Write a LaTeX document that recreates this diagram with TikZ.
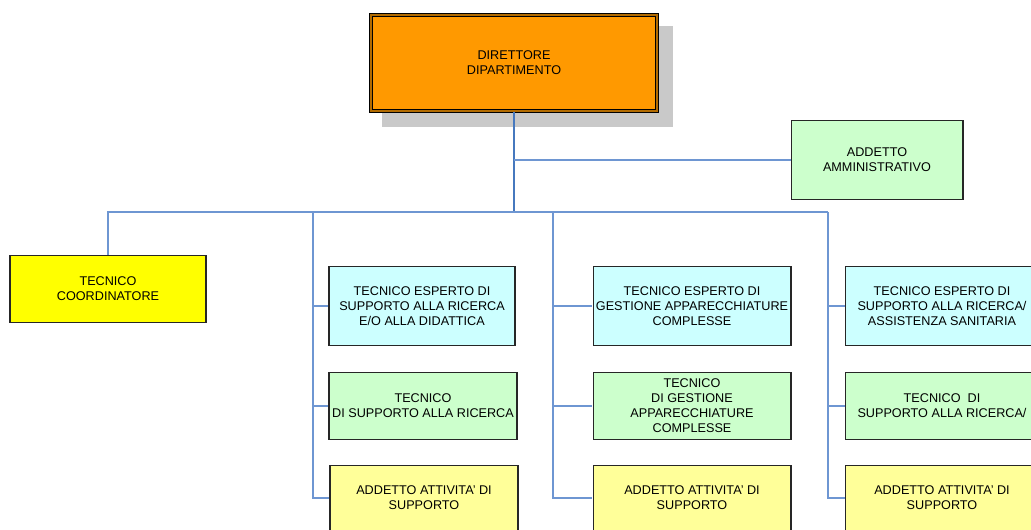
\documentclass[tikz,border=0pt]{standalone}
\usepackage{fontspec}
\setmainfont{Liberation Sans}
\usetikzlibrary{positioning, calc}
\definecolor{dirorange}{RGB}{255,153,0}
\definecolor{boxgreen}{RGB}{204,255,204}
\definecolor{boxcyan}{RGB}{204,255,255}
\definecolor{boxyellow}{RGB}{255,255,0}
\definecolor{boxpale}{RGB}{255,255,153}
\definecolor{linkblue}{RGB}{110,150,210}
\definecolor{trunkblue}{RGB}{70,120,190}
\tikzset{
	orgbox/.style={draw=black!85, line width=0.6pt, align=center, inner sep=0pt,
		font=\fontsize{7.2}{8.5}\selectfont},
	link/.style={draw=linkblue, line width=0.6pt}
}
\tikzset{
	trunk/.style={draw=trunkblue, line width=0.8pt}
}

\begin{document}
\begin{tikzpicture}[x=0.02cm, y=-0.02cm]
      \clip (0,0) rectangle (1031,529);
      \fill[white] (0,0) rectangle (1031,529);
      % director with shadow
      \fill[black!21] (382,26) rectangle (673,127);
      \node[orgbox, fill=dirorange, draw=black, double=dirorange!70!black, double distance=1.2pt,
        minimum width=5.72cm, minimum height=1.92cm] (dir) at (514,63) {DIRETTORE\\DIPARTIMENTO};
      \node[orgbox, fill=boxgreen, minimum width=3.44cm, minimum height=1.58cm] (amm) at (877,160) {ADDETTO\\AMMINISTRATIVO};
      \node[orgbox, fill=boxyellow, minimum width=3.92cm, minimum height=1.34cm] (coord) at (108,289) {TECNICO\\COORDINATORE};
      % column 1
      \node[orgbox, fill=boxcyan, minimum width=3.72cm, minimum height=1.58cm] (ca) at (422,306) {TECNICO ESPERTO DI\\SUPPORTO ALLA RICERCA\\E/O ALLA DIDATTICA};
      \node[orgbox, fill=boxgreen, minimum width=3.76cm, minimum height=1.34cm] (cb) at (423,406) {TECNICO\\DI SUPPORTO ALLA RICERCA};
      \node[orgbox, fill=boxpale, minimum width=3.76cm, minimum height=1.3cm] (cc) at (424,498) {ADDETTO ATTIVITA' DI\\SUPPORTO};
      % column 2
      \node[orgbox, fill=boxcyan, minimum width=3.96cm, minimum height=1.58cm] (ga) at (692,306) {TECNICO ESPERTO DI\\GESTIONE APPARECCHIATURE\\COMPLESSE};
      \node[orgbox, fill=boxgreen, minimum width=3.96cm, minimum height=1.34cm] (gb) at (692,406) {TECNICO\\DI GESTIONE\\APPARECCHIATURE\\COMPLESSE};
      \node[orgbox, fill=boxpale, minimum width=3.96cm, minimum height=1.3cm] (gc) at (692,498) {ADDETTO ATTIVITA' DI\\SUPPORTO};
      % column 3
      \node[orgbox, fill=boxcyan, minimum width=3.88cm, minimum height=1.58cm] (sa) at (942,306) {TECNICO ESPERTO DI\\SUPPORTO ALLA RICERCA/\\ASSISTENZA SANITARIA};
      \node[orgbox, fill=boxgreen, minimum width=3.88cm, minimum height=1.34cm] (sb) at (942,406) {TECNICO \ DI\\SUPPORTO ALLA RICERCA/};
      \node[orgbox, fill=boxpale, minimum width=3.88cm, minimum height=1.3cm] (sc) at (942,498) {ADDETTO ATTIVITA' DI\\SUPPORTO};
      % connectors
      \coordinate (hub) at (514,212);
      \coordinate (top1) at (313,212);
      \coordinate (top2) at (553,212);
      \coordinate (top3) at (828,212);
      \draw[trunk] (dir.south) -- (hub);
      \draw[link] (dir.south |- amm.west) -- (amm.west);
      \draw[link] (coord.north) |- (top3);
      \foreach \t/\a/\b/\c in {top1/ca/cb/cc, top2/ga/gb/gc, top3/sa/sb/sc}
        {\draw[link] (\t) |- (\c.west); \draw[link] (\t |- \a.west) -- (\a.west); \draw[link] (\t |- \b.west) -- (\b.west);}
    \end{tikzpicture}
\end{document}
